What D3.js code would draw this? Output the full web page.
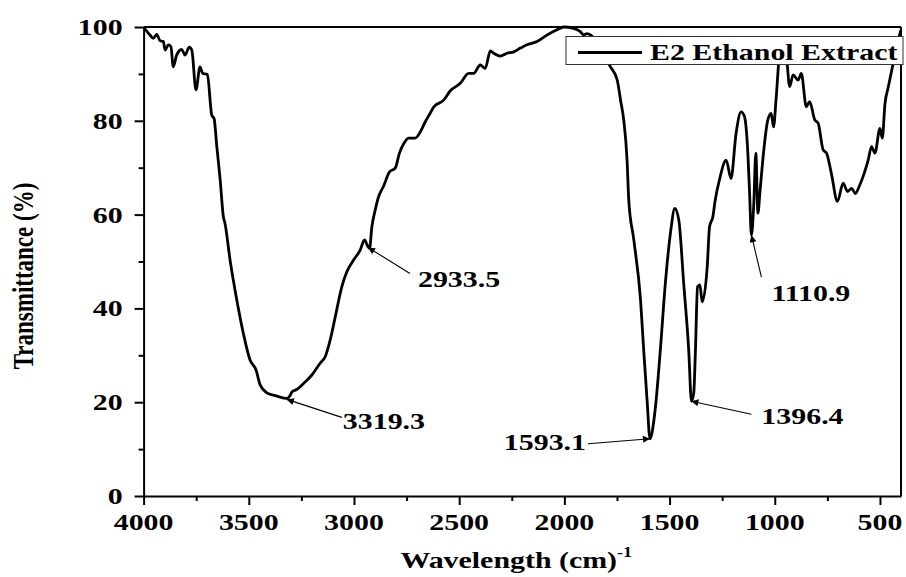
<!DOCTYPE html>
<html>
<head>
<meta charset="utf-8">
<script src="https://cdn.jsdelivr.net/npm/d3@7/dist/d3.min.js"></script>
<style>
  html, body { margin: 0; padding: 0; background: #fff; }
  svg { display: block; }
  text { font-family: "Liberation Serif", "Times New Roman", serif; font-weight: bold; fill: #000; }
</style>
</head>
<body>
<svg id="chart" width="906" height="577"></svg>
<script>
// ---------------- data ----------------
const wavenumbers = [
  4000,3970,3954,3938,3922,3906,3898,3882,3870,3859,3843,3819,3803,3783,3771,3751,3732,3719,3697,3676,
  3665,3652,3636,3621,3613,3589,3557,3526,3494,3466,3446,3414,3367,3319,3303,3295,3272,3240,3200,3161,
  3137,3113,3089,3058,3034,3002,2970,2950,2934,2926,2915,2899,2883,2860,2831,2804,2784,2761,2741,2709,
  2685,2661,2638,2622,2574,2542,2495,2455,2431,2400,2376,2352,2336,2304,2273,2241,2209,2178,2130,2082,
  2035,2003,1956,1924,1908,1892,1876,1850,1820,1800,1781,1749,1733,1718,1702,1694,1670,1638,1623,1607,
  1593,1575,1567,1544,1520,1496,1475,1456,1433,1409,1396,1385,1377,1367,1356,1345,1321,1310,1294,1283,
  1263,1231,1208,1184,1160,1144,1128,1120,1111,1100,1090,1080,1070,1057,1033,1017,1006,993,977,961,
  945,929,913,889,874,850,834,810,794,770,754,731,702,675,654,635,617,596,575,556,
  540,524,500,489,476,460,436,413,400
];
const transmittance = [
  100,98.3,97.6,98.4,97.1,96.9,95.1,96.2,95.8,91.5,94.0,95.2,94.0,95.7,95.1,86.6,91.5,90.1,89.9,81.2,
  80.5,74.5,67.4,59.6,58.1,50.3,41.8,34.7,29.0,26.9,23.7,22.0,21.3,20.8,21.5,22.2,22.7,24.0,25.8,28.3,
  29.7,33.3,38.2,44.6,47.8,50.3,52.5,54.6,53.2,52.8,57.4,61.0,63.8,66.0,69.1,69.9,73.1,75.3,76.3,76.3,
  77.6,79.8,81.6,82.9,84.4,86.4,88.0,90.1,90.1,91.9,91.2,94.9,94.4,93.8,94.4,94.7,95.5,96.2,96.9,98.3,
  99.4,100,99.7,99.0,98.3,98.6,98.3,97.0,95.0,93.0,91.5,88.7,84.4,80.2,71.6,63.1,54.6,41.8,31.1,20.5,
  12.2,16.0,19.0,31.1,45.4,56.0,61.3,58.8,45.4,31.1,20.2,22.0,31.1,44.6,45.0,41.4,48.9,57.4,59.6,63.1,
  67.4,71.6,67.7,77.3,81.9,80.9,73.1,65.0,55.6,62.0,73.1,60.3,65.0,71.6,80.2,81.6,78.7,85.1,94.4,96.5,
  94.0,87.3,89.8,88.7,90.1,83.0,84.1,80.2,79.5,73.8,73.1,68.8,62.8,66.7,64.9,65.6,64.5,66.3,68.8,71.6,
  74.5,73.1,78.4,76.3,83.7,87.3,92.5,97.2,99.4
];
const seriesName = "E2 Ethanol Extract";

const xMajorTicks = [4000,3500,3000,2500,2000,1500,1000,500];
const xMinorTicks = [3750,3250,2750,2250,1750,1250,750];
const yMajorTicks = [0,20,40,60,80,100];
const yMinorTicks = [10,30,50,70,90];

const peakLabels = ["3319.3","2933.5","1593.1","1396.4","1110.9"];
const peakWavenumbers = [3319.3,2933.5,1593.1,1396.4,1110.9];
const peakTransmittance = [20.6,53.0,12.2,20.2,55.6];

// ---------------- layout ----------------
const peakLayout = [
  {tail:[55,18],  text:[56,30],  anchor:"start"},
  {tail:[42,26],  text:[50,40],  anchor:"start"},
  {tail:[-62,5],  text:[-64,11], anchor:"end"},
  {tail:[60,13],  text:[70,23],  anchor:"start"},
  {tail:[10,42],  text:[20,66],  anchor:"start"}
];

const SX = 1.3;
const FS = 23;

const svg = d3.select("#chart");
const pLeft = 143.6, pRight = 901, pTop = 27, pBottom = 496;

const x = d3.scaleLinear().domain([4000, 400]).range([pLeft, pRight]);
const y = d3.scaleLinear().domain([0, 100]).range([pBottom, pTop]);

function label(g, tx, ty, str, anchor, size) {
  return g.append("text")
    .attr("transform", `translate(${tx},${ty}) scale(${SX},1)`)
    .attr("text-anchor", anchor || "start")
    .style("font-size", (size || FS) + "px")
    .text(str);
}

// curve
const data = wavenumbers.map((w, i) => ({w, t: transmittance[i]}));
const line = d3.line().x(d => x(d.w)).y(d => y(d.t)).curve(d3.curveMonotoneX);
svg.append("path")
  .datum(data)
  .attr("d", line)
  .attr("fill", "none")
  .attr("stroke", "#000")
  .attr("stroke-width", 2.8)
  .attr("stroke-linejoin", "round");

// axes
const gx = svg.append("g").attr("transform", `translate(0,${pBottom})`);
gx.call(d3.axisBottom(x).tickValues(xMajorTicks).tickSize(9).tickSizeOuter(0).tickFormat(""));
const gxm = svg.append("g").attr("transform", `translate(0,${pBottom})`);
gxm.call(d3.axisBottom(x).tickValues(xMinorTicks).tickSize(5).tickSizeOuter(0).tickFormat(""));
gxm.select(".domain").remove();

const gy = svg.append("g").attr("transform", `translate(${pLeft},0)`);
gy.call(d3.axisLeft(y).tickValues(yMajorTicks).tickSize(9).tickSizeOuter(0).tickFormat(""));
const gym = svg.append("g").attr("transform", `translate(${pLeft},0)`);
gym.call(d3.axisLeft(y).tickValues(yMinorTicks).tickSize(5).tickSizeOuter(0).tickFormat(""));
gym.select(".domain").remove();

svg.selectAll(".domain").attr("stroke", "#000").attr("stroke-width", 2);
svg.selectAll(".tick line").attr("stroke", "#000").attr("stroke-width", 2);

// frame top & right
svg.append("line").attr("x1", x(4000)).attr("x2", x(400)).attr("y1", y(100)).attr("y2", y(100))
  .attr("stroke", "#000").attr("stroke-width", 2);
svg.append("line").attr("x1", x(400)).attr("x2", x(400)).attr("y1", y(100)).attr("y2", y(0))
  .attr("stroke", "#000").attr("stroke-width", 2);

// tick labels
const tl = svg.append("g");
xMajorTicks.forEach(v => label(tl, x(v), pBottom + 34, String(v), "middle"));
yMajorTicks.forEach(v => label(tl, pLeft - 21, y(v) + 8, String(v), "end"));

// axis titles
const xt = label(svg, (pLeft + pRight) / 2 - 6, 568, "Wavelength (cm)", "middle");
xt.append("tspan").attr("dy", -11).style("font-size", "14px").text("-1");
svg.append("text")
  .attr("transform", `translate(33,276) scale(${SX},1) rotate(-90)`)
  .attr("text-anchor", "middle")
  .style("font-size", FS + "px")
  .text("Transmittance (%)");

// annotations
svg.append("defs").append("marker")
  .attr("id", "arrow").attr("viewBox", "0 0 10 10")
  .attr("refX", 10).attr("refY", 5)
  .attr("markerWidth", 9).attr("markerHeight", 7)
  .attr("markerUnits", "userSpaceOnUse")
  .attr("orient", "auto")
  .append("path").attr("d", "M0,0 L10,5 L0,10 Z").attr("fill", "#000");

const ag = svg.append("g");
peakLabels.forEach((lab, i) => {
  const px = x(peakWavenumbers[i]), py = y(peakTransmittance[i]);
  const L = peakLayout[i];
  ag.append("line")
    .attr("x1", px + L.tail[0]).attr("y1", py + L.tail[1])
    .attr("x2", px).attr("y2", py)
    .attr("stroke", "#000").attr("stroke-width", 1.1)
    .attr("marker-end", "url(#arrow)");
  label(ag, px + L.text[0], py + L.text[1], lab, L.anchor);
});

// legend
const lg = svg.append("g");
lg.append("rect").attr("x", 566).attr("y", 36.5).attr("width", 337).attr("height", 28)
  .attr("fill", "#fff").attr("stroke", "#333").attr("stroke-width", 1);
lg.append("line").attr("x1", 578).attr("x2", 642).attr("y1", 52.5).attr("y2", 52.5)
  .attr("stroke", "#000").attr("stroke-width", 2.8);
label(lg, 650, 60, seriesName, "start");
</script>
</body>
</html>
